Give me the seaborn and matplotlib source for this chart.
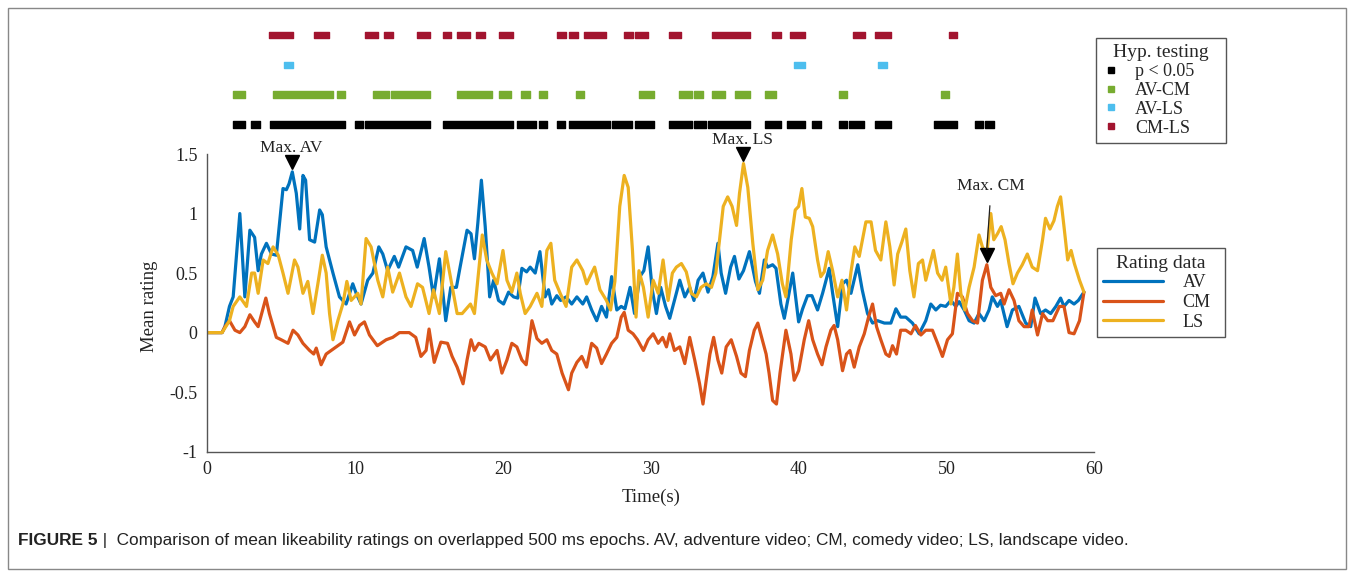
import numpy as np
import pandas as pd
import seaborn as sns
import matplotlib.pyplot as plt
from matplotlib.lines import Line2D
from matplotlib.patches import Rectangle
from matplotlib.ticker import FuncFormatter

plt.switch_backend("Agg")

# mean rating traces, time in seconds
av_t = [0, 1.0, 1.19, 1.5, 1.75, 2.2, 2.54, 2.88, 3.2, 3.44, 3.66, 4.0, 4.34, 4.67, 5.12, 5.35, 5.53,
        5.75, 6.02, 6.25, 6.47, 6.65, 6.92, 7.26, 7.6, 7.78, 8.04, 8.5, 8.94, 9.39, 9.84, 10.07, 10.4,
        10.85, 11.2, 11.6, 11.87, 12.2, 12.65, 12.94, 13.44, 13.89, 14.2, 14.67, 15.0, 15.3, 15.7,
        16.13, 16.47, 16.85, 17.1, 17.57, 17.84, 18.07, 18.3, 18.54, 18.8, 19.1, 19.37, 19.7, 20.04,
        20.38, 20.72, 21.0, 21.28, 21.6, 21.84, 22.18, 22.5, 22.85, 23.08, 23.3, 23.64, 23.9, 24.27,
        24.65, 25.0, 25.4, 25.66, 26.0, 26.34, 26.67, 27.0, 27.35, 27.7, 28.0, 28.25, 28.6, 28.9,
        29.26, 29.53, 29.82, 30.1, 30.38, 30.67, 31.0, 31.28, 31.6, 31.96, 32.3, 32.63, 32.92, 33.2,
        33.53, 33.87, 34.2, 34.54, 34.76, 35.06, 35.4, 35.66, 35.96, 36.27, 36.67, 37.08, 37.35,
        37.68, 37.9, 38.24, 38.47, 38.8, 39.03, 39.26, 39.6, 40.0, 40.27, 40.6, 40.9, 41.28, 41.62,
        42.07, 42.3, 42.64, 42.97, 43.24, 43.54, 44.0, 44.3, 44.66, 45.0, 45.34, 45.8, 46.24, 46.58,
        46.9, 47.25, 47.7, 48.15, 48.6, 48.94, 49.28, 49.6, 49.95, 50.3, 50.63, 50.86, 51.2, 51.53,
        51.87, 52.2, 52.55, 52.88, 53.1, 53.45, 53.67, 54.1, 54.46, 54.9, 55.36, 55.7, 55.99, 56.37,
        56.7, 57.05, 57.4, 57.72, 57.95, 58.29, 58.63, 58.92, 59.3]
av_v = [0, 0, 0.05, 0.22, 0.3, 1.0, 0.3, 0.86, 0.8, 0.52, 0.66, 0.75, 0.66, 0.65, 1.21, 1.2, 1.25,
        1.35, 1.17, 0.87, 1.32, 1.28, 0.78, 0.76, 1.03, 0.99, 0.72, 0.5, 0.3, 0.24, 0.41, 0.33, 0.24,
        0.44, 0.5, 0.72, 0.66, 0.52, 0.64, 0.55, 0.72, 0.69, 0.55, 0.79, 0.55, 0.3, 0.62,
        0.1, 0.38, 0.38, 0.55, 0.86, 0.83, 0.62, 0.92, 1.28, 0.89, 0.3, 0.44, 0.27, 0.24,
        0.34, 0.3, 0.29, 0.54, 0.51, 0.55, 0.5, 0.68, 0.3, 0.36, 0.24, 0.31, 0.27, 0.3,
        0.24, 0.3, 0.24, 0.3, 0.19, 0.1, 0.22, 0.13, 0.47, 0.19, 0.22, 0.2, 0.38, 0.16,
        0.47, 0.52, 0.72, 0.36, 0.16, 0.38, 0.22, 0.12, 0.27, 0.44, 0.3, 0.38, 0.27, 0.44,
        0.5, 0.34, 0.47, 0.75, 0.5, 0.33, 0.55, 0.64, 0.45, 0.52, 0.68, 0.43, 0.33,
        0.61, 0.55, 0.57, 0.54, 0.24, 0.12, 0.27, 0.5, 0.09, 0.2, 0.31, 0.31, 0.19, 0.33,
        0.54, 0.33, 0.05, 0.41, 0.44, 0.33, 0.57, 0.36, 0.16, 0.08, 0.1, 0.08, 0.08, 0.2,
        0.13, 0.13, 0.08, -0.01, 0.1, 0.24, 0.19, 0.23, 0.22, 0.27, 0.22, 0.26, 0.19, 0.1,
        0.08, 0.16, 0.1, 0.19, 0.3, 0.22, 0.27, 0.05, 0.19, 0.22, 0.08, 0.05, 0.29, 0.16,
        0.19, 0.16, 0.22, 0.29, 0.22, 0.27, 0.24, 0.27, 0.34]

cm_t = [0, 1.0, 1.2, 1.5, 1.87, 2.2, 2.54, 2.88, 3.2, 3.44, 3.96, 4.2, 4.67, 5.0, 5.46, 5.8, 6.13,
        6.47, 6.92, 7.2, 7.37, 7.7, 8.04, 8.38, 8.83, 9.17, 9.62, 9.96, 10.3, 10.63, 10.97, 11.5,
        12.1, 12.54, 13.0, 13.66, 14.1, 14.45, 14.8, 15.0, 15.35, 15.8, 16.25, 16.56, 16.9, 17.3,
        17.57, 17.84, 18.07, 18.36, 18.8, 19.15, 19.6, 19.93, 20.27, 20.6, 20.94, 21.28, 21.57,
        21.96, 22.3, 22.63, 22.97, 23.3, 23.64, 24.0, 24.43, 24.65, 25.0, 25.33, 25.66, 26.0, 26.34,
        26.67, 27.0, 27.35, 27.7, 28.0, 28.2, 28.47, 28.8, 29.1, 29.5, 29.82, 30.16, 30.5, 30.8,
        31.06, 31.28, 31.6, 31.96, 32.3, 32.63, 32.97, 33.3, 33.53, 33.75, 34.0, 34.25, 34.54, 34.8,
        35.1, 35.44, 35.8, 36.1, 36.4, 36.67, 37.0, 37.24, 37.5, 37.8, 38.0, 38.24, 38.5, 38.74,
        39.14, 39.48, 39.7, 40.0, 40.38, 40.68, 40.95, 41.28, 41.58, 41.85, 42.18, 42.4, 42.64,
        42.97, 43.24, 43.47, 43.76, 44.1, 44.44, 44.73, 45.0, 45.27, 45.56, 45.9, 46.13, 46.35,
        46.62, 46.9, 47.25, 47.6, 47.9, 48.27, 48.6, 49.05, 49.4, 49.73, 50.07, 50.4, 50.74, 51.08,
        51.42, 51.76, 52.1, 52.43, 52.73, 53.0, 53.33, 53.67, 53.9, 54.23, 54.57, 54.9, 55.25,
        55.58, 55.8, 56.16, 56.5, 56.85, 57.2, 57.64, 57.95, 58.29, 58.63, 59.0, 59.3]
cm_v = [0, 0, 0.05, 0.1, 0.02, 0.0, 0.05, 0.15, 0.09, 0.05, 0.29, 0.16, -0.04, -0.06, -0.09, 0.02, -0.02,
        -0.09, -0.15, -0.18, -0.13, -0.27, -0.18, -0.15, -0.11, -0.08, 0.09, -0.02, 0.06, 0.09, -0.02, -0.11,
        -0.06, -0.04, 0.0, 0.0, -0.04, -0.2, -0.15, 0.03, -0.25, -0.08, -0.09, -0.2, -0.29, -0.43,
        -0.23, -0.06, -0.15, -0.09, -0.12, -0.23, -0.15, -0.34, -0.23, -0.09, -0.12, -0.23, -0.27,
        0.1, -0.05, -0.09, -0.06, -0.15, -0.18, -0.34, -0.48, -0.34, -0.25, -0.2, -0.29, -0.09, -0.13,
        -0.26, -0.18, -0.09, -0.04, 0.13, 0.17, 0.02, -0.01, -0.06, -0.15, -0.06, -0.01, -0.09, -0.04,
        -0.12, -0.01, -0.15, -0.12, -0.26, -0.04, -0.23, -0.43, -0.6, -0.4, -0.18, -0.04, -0.23, -0.34,
        -0.12, -0.06, -0.2, -0.34, -0.37, -0.15, 0.02, 0.08, -0.04, -0.18, -0.34, -0.57, -0.6, -0.34,
        0.02, -0.18, -0.4, -0.32, -0.06, 0.1, -0.06, -0.18, -0.27, -0.12, 0.02, 0.06, -0.06,
        -0.32, -0.18, -0.15, -0.29, -0.12, -0.01, 0.13, 0.24, 0.05, -0.06, -0.18, -0.2, -0.11,
        -0.18, 0.02, 0.02, -0.01, 0.06, -0.02, 0.02, 0.02, -0.09, -0.2, -0.06, -0.01, 0.33, 0.3,
        0.16, 0.1, 0.08, 0.44, 0.57, 0.38, 0.31, 0.33, 0.24, 0.36, 0.27, 0.1, 0.05,
        0.05, 0.19, -0.02, 0.16, 0.1, 0.1, 0.22, 0.22, 0.0, -0.01, 0.1, 0.34]

ls_t = [0, 1.0, 1.5, 1.75, 2.2, 2.65, 3.0, 3.2, 3.44, 3.78, 4.1, 4.45, 4.8, 5.12, 5.46, 5.9, 6.13, 6.47,
        6.8, 7.15, 7.48, 7.78, 8.04, 8.27, 8.5, 8.83, 9.17, 9.44, 9.73, 10.18, 10.4, 10.74, 11.08,
        11.53, 11.87, 12.2, 12.54, 13.0, 13.44, 13.78, 14.22, 14.56, 15.0, 15.3, 15.7, 16.13, 16.6,
        16.9, 17.24, 17.8, 18.07, 18.6, 18.9, 19.25, 19.6, 20.0, 20.27, 20.6, 20.94, 21.17, 21.5,
        21.84, 22.3, 22.63, 22.97, 23.24, 23.5, 23.87, 24.27, 24.65, 25.0, 25.4, 25.66, 26.0, 26.2,
        26.56, 27.0, 27.28, 27.57, 27.9, 28.2, 28.47, 28.76, 29.0, 29.2, 29.5, 29.82, 30.16, 30.5,
        30.83, 31.17, 31.46, 31.73, 32.07, 32.4, 32.74, 33.08, 33.4, 33.75, 34.1, 34.4, 34.9, 35.2,
        35.5, 35.8, 36.0, 36.27, 36.56, 36.9, 37.24, 37.57, 37.9, 38.24, 38.58, 38.9, 39.14, 39.5,
        39.77, 40.0, 40.22, 40.45, 40.72, 40.95, 41.28, 41.5, 41.73, 42.0, 42.3, 42.64, 42.93, 43.24,
        43.54, 43.8, 44.1, 44.55, 44.9, 45.2, 45.56, 45.9, 46.17, 46.46, 46.7, 46.98, 47.25, 47.52,
        47.8, 48.1, 48.38, 48.6, 48.83, 49.12, 49.4, 49.7, 49.95, 50.3, 50.5, 50.74, 50.97, 51.24,
        51.53, 51.87, 52.2, 52.43, 52.73, 53.0, 53.2, 53.45, 53.7, 53.96, 54.23, 54.5, 54.8, 55.13,
        55.47, 55.8, 56.16, 56.5, 56.7, 57.0, 57.27, 57.5, 57.72, 57.95, 58.2, 58.43, 58.65, 59.0,
        59.3]
ls_v = [0, 0, 0.1, 0.22, 0.3, 0.22, 0.5, 0.5, 0.33, 0.61, 0.58, 0.72, 0.65, 0.5, 0.33, 0.61, 0.55, 0.33,
        0.43, 0.16, 0.41, 0.65, 0.5, 0.16, -0.06, 0.1, 0.24, 0.43, 0.27, 0.33, 0.24, 0.79, 0.72,
        0.44, 0.3, 0.55, 0.34, 0.5, 0.3, 0.22, 0.41, 0.38, 0.16, 0.36, 0.16, 0.68, 0.36,
        0.16, 0.16, 0.24, 0.16, 0.82, 0.61, 0.5, 0.41, 0.69, 0.44, 0.34, 0.5, 0.33, 0.16,
        0.22, 0.33, 0.22, 0.69, 0.75, 0.44, 0.33, 0.22, 0.55, 0.61, 0.52, 0.41, 0.5, 0.55,
        0.36, 0.27, 0.19, 0.43, 1.06, 1.32, 1.22, 0.69, 0.13, 0.52, 0.38, 0.13, 0.44, 0.33,
        0.61, 0.27, 0.5, 0.55, 0.58, 0.51, 0.33, 0.3, 0.38, 0.41, 0.38, 0.5, 1.06, 1.14,
        1.06, 0.9, 1.17, 1.42, 1.22, 0.75, 0.36, 0.44, 0.69, 0.82, 0.66, 0.41, 0.3, 0.78,
        1.03, 1.06, 1.21, 0.97, 0.96, 0.89, 0.61, 0.47, 0.51, 0.68, 0.52, 0.3, 0.44, 0.19,
        0.51, 0.72, 0.64, 0.93, 0.93, 0.69, 0.61, 0.93, 0.72, 0.4, 0.66, 0.76, 0.87, 0.52,
        0.3, 0.58, 0.61, 0.44, 0.55, 0.69, 0.5, 0.44, 0.55, 0.24, 0.38, 0.66, 0.33, 0.19,
        0.38, 0.55, 0.82, 0.72, 0.66, 1.0, 0.78, 0.83, 0.89, 0.78, 0.58, 0.41, 0.5, 0.57,
        0.66, 0.55, 0.52, 0.78, 0.96, 0.87, 0.94, 1.06, 1.14, 0.89, 0.61, 0.69, 0.58, 0.44,
        0.34]

# significant intervals (start, end) in seconds
sig_p = [(1.71, 2.56), (2.97, 3.58), (4.25, 9.31), (9.99, 10.55), (10.7, 15.05), (15.95, 20.7),
         (20.96, 22.25), (22.43, 22.99), (23.66, 24.22), (24.45, 27.26), (27.4, 28.7), (28.9, 30.2),
         (31.2, 32.8), (32.93, 33.72), (33.9, 36.7), (37.7, 38.78), (39.18, 40.46), (40.9, 41.48),
         (42.7, 43.27), (43.39, 44.45), (45.14, 46.24), (49.17, 50.74), (51.9, 52.45), (52.6, 53.24)]
sig_av_cm = [(1.71, 2.56), (4.43, 8.48), (8.75, 9.31), (11.18, 12.3), (12.42, 15.05), (16.9, 19.28),
             (19.7, 20.56), (21.23, 21.8), (22.43, 22.99), (24.94, 25.5), (29.2, 30.2), (31.9, 32.8),
             (32.9, 33.5), (34.16, 35.0), (35.7, 36.7), (37.7, 38.5), (42.7, 43.27), (49.64, 50.2)]
sig_av_ls = [(5.22, 5.78), (39.68, 40.46), (45.4, 45.97)]
sig_cm_ls = [(4.2, 5.8), (7.2, 8.25), (10.7, 11.56), (11.96, 12.53), (14.2, 15.05), (15.95, 16.5),
             (16.9, 17.75), (18.2, 18.76), (19.7, 20.7), (23.66, 24.27), (24.5, 25.05), (25.46, 26.97),
             (28.16, 28.77), (28.95, 29.78), (31.2, 32.03), (34.16, 36.7), (38.2, 38.78), (39.4, 40.46),
             (43.68, 44.47), (45.14, 46.24), (50.18, 50.74)]

videos = ["AV", "CM", "LS"]
line_colors = ["#0072BD", "#D95319", "#EDB120"]
sig_labels = ["p < 0.05", "AV-CM", "AV-LS", "CM-LS"]
sig_colors = ["black", "#77AC30", "#4DBEEE", "#A2142F"]

df = pd.concat([
    pd.DataFrame({"time": av_t, "rating": av_v, "video": "AV"}),
    pd.DataFrame({"time": cm_t, "rating": cm_v, "video": "CM"}),
    pd.DataFrame({"time": ls_t, "rating": ls_v, "video": "LS"}),
], ignore_index=True)

sns.set_style("white")
plt.rcParams["font.family"] = ["Liberation Serif", "DejaVu Serif"]
plt.rcParams["axes.unicode_minus"] = False

fig = plt.figure(figsize=(13.54, 5.77), dpi=100)
ax = fig.add_axes([0.1531, 0.2172, 0.6551, 0.5159])
ax_sig = fig.add_axes([0.1531, 0.7589, 0.6551, 0.2059])

sns.lineplot(data=df, x="time", y="rating", hue="video", hue_order=videos,
             palette=dict(zip(videos, line_colors)), estimator=None, linewidth=2.3,
             legend=False, ax=ax)

ax.set_xlim(0, 60)
ax.set_ylim(-1, 1.5)
ax.set_xticks(range(0, 61, 10))
ax.set_yticks([-1, -0.5, 0, 0.5, 1, 1.5])
fmt = FuncFormatter(lambda v, p: "%g" % v)
ax.xaxis.set_major_formatter(fmt)
ax.yaxis.set_major_formatter(fmt)
sns.despine(ax=ax)
for s in ["left", "bottom"]:
    ax.spines[s].set_color("#555555")
    ax.spines[s].set_linewidth(1.0)
ax.tick_params(direction="in", length=6, width=0.9, color="#555555", labelsize=13,
               labelcolor="#222222", pad=7)
ax.set_xlabel("Time(s)", fontsize=13.5, color="#222222")
ax.set_ylabel("Mean rating", fontsize=13.5, color="#222222")
ax.xaxis.set_label_coords(0.5, -0.125)
ax.yaxis.set_label_coords(-0.056, 0.49)

# max markers
series = {"AV": (av_t, av_v), "LS": (ls_t, ls_v), "CM": (cm_t, cm_v)}
for name, (t, v) in series.items():
    i = int(np.argmax(v))
    ax.plot(t[i], v[i] + 0.08, marker="v", color="black", markersize=10, clip_on=False)
    if name == "CM":
        ax.annotate("Max. " + name, xy=(t[i], v[i] + 0.13), xytext=(t[i] + 0.3, v[i] + 0.66),
                    ha="center", va="center", fontsize=12.5, color="#222222",
                    arrowprops=dict(arrowstyle="-", color="#222222", lw=0.9, shrinkA=6, shrinkB=0))
    else:
        ax.text(t[i] - 0.1, v[i] + 0.2, "Max. " + name, ha="center", va="center",
                fontsize=12.5, color="#222222")

# significance rows
sig_rows = [sig_p, sig_av_cm, sig_av_ls, sig_cm_ls]
for row, (intervals, c) in enumerate(zip(sig_rows, sig_colors)):
    ax_sig.broken_barh([(a, b - a) for a, b in intervals], (row - 0.11, 0.22), color=c)
ax_sig.set_xlim(0, 60)
ax_sig.set_ylim(-0.5, 3.5)
ax_sig.axis("off")

# legends
h_sig = [Line2D([], [], ls="none", marker="s", markersize=5, color=c) for c in sig_colors]
leg1 = fig.legend(h_sig, sig_labels, title="Hyp. testing", loc="upper left",
                  bbox_to_anchor=(0.8095, 0.7518, 0.0960, 0.1823), mode="expand",
                  borderaxespad=0, fontsize=13, title_fontsize=14, handlelength=1.0,
                  handletextpad=0.8, labelspacing=0.1, fancybox=False, edgecolor="#555555",
                  framealpha=1, borderpad=0.35)
leg1.get_frame().set_linewidth(1.0)

h_line = [Line2D([], [], color=c, lw=2.3) for c in line_colors]
leg2 = fig.legend(h_line, videos, title="Rating data", loc="upper left",
                  bbox_to_anchor=(0.810, 0.4075, 0.0948, 0.1622), mode="expand",
                  borderaxespad=0, fontsize=13, title_fontsize=14, handlelength=3.3,
                  handletextpad=1.1, labelspacing=0.15, fancybox=False, edgecolor="#555555",
                  framealpha=1, borderpad=0.35)
leg2.get_frame().set_linewidth(1.0)

# outer frame and caption
fig.add_artist(Rectangle((0.0059, 0.0139), 0.988, 0.972, transform=fig.transFigure,
                         fill=False, edgecolor="#888888", linewidth=1.0))
cap1 = fig.text(0.0133, 0.064, "FIGURE 5", fontsize=12.4, fontweight="bold", color="#222222",
                family=["Liberation Sans", "DejaVu Sans"], va="center")
fig.add_artist(plt.Annotation(" |  Comparison of mean likeability ratings on overlapped 500 ms epochs. "
                              "AV, adventure video; CM, comedy video; LS, landscape video.",
                              xy=(1, 0.5), xycoords=cap1, va="center", fontsize=12.4,
                              color="#222222", family=["Liberation Sans", "DejaVu Sans"]))

plt.savefig("out.png", dpi=100)
